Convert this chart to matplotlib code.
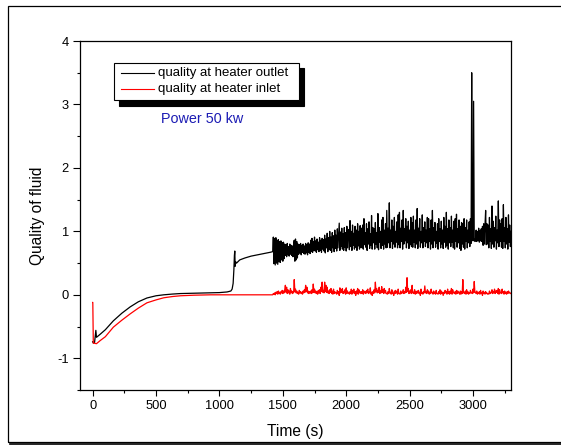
import numpy as np
import matplotlib
matplotlib.use("Agg")
import matplotlib.pyplot as plt
from matplotlib.patches import Rectangle
from matplotlib.lines import Line2D

plt.rcParams['font.family'] = ['Liberation Sans', 'DejaVu Sans']
plt.rcParams['axes.unicode_minus'] = False

# ---------------- data ----------------
# outlet (black) - smooth start-up part
t_out_start = [0, 5, 15, 22, 25, 30, 60, 100, 163, 230, 296, 360, 428, 500, 560, 630,
               693, 800, 930, 1000, 1060, 1090, 1100, 1108, 1114, 1118, 1121, 1124,
               1128, 1135, 1160, 1200, 1250, 1300, 1350, 1400]
q_out_start = [-0.74, -0.76, -0.75, -0.62, -0.56, -0.67, -0.62, -0.55, -0.41, -0.29,
               -0.19, -0.11, -0.05, -0.015, 0.0, 0.012, 0.02, 0.025, 0.03, 0.035,
               0.045, 0.06, 0.09, 0.18, 0.40, 0.62, 0.69, 0.45, 0.52, 0.50, 0.55,
               0.58, 0.61, 0.63, 0.65, 0.67]
# outlet (black) - fluctuating part, sampled every 5 s from 1420 s
q_out_noise = [
    0.68, 0.91, 0.49, 0.89, 0.47, 0.90, 0.50, 0.86, 0.48, 0.87, 0.52, 0.84, 0.51, 0.85, 0.55, 0.82, 0.53, 0.83, 0.57, 0.80,
    0.62, 0.79, 0.60, 0.81, 0.63, 0.76, 0.61, 0.80, 0.64, 0.78, 0.62, 0.77, 0.60, 0.79, 0.86, 0.53, 0.88, 0.55, 0.84, 0.58,
    0.80, 0.64, 0.79, 0.66, 0.81, 0.63, 0.78, 0.67, 0.80, 0.65, 0.77, 0.64, 0.81, 0.66, 0.79, 0.63, 0.82, 0.67, 0.80, 0.65,
    0.86, 0.68, 0.89, 0.67, 0.84, 0.70, 0.91, 0.69, 0.85, 0.67, 0.88, 0.71, 0.83, 0.68, 0.90, 0.70, 0.86, 0.67, 0.89, 0.72,
    0.87, 0.69, 0.94, 0.66, 0.88, 0.74, 0.97, 0.68, 0.90, 0.72, 1.00, 0.70, 0.91, 0.67, 0.98, 0.74, 0.93, 0.68, 1.02, 0.73,
    0.94, 0.69, 1.04, 0.74, 0.95, 1.13, 0.70, 0.99, 0.76, 1.05, 0.72, 0.96, 0.70, 1.06, 0.75, 0.98, 0.69, 1.08, 0.74, 0.99,
    1.03, 0.71, 1.17, 0.76, 1.00, 0.70, 1.10, 0.78, 0.97, 0.72, 1.08, 0.75, 1.02, 0.70, 1.12, 0.77, 1.00, 0.72, 1.09, 0.75,
    1.05, 0.74, 1.10, 0.72, 1.20, 0.79, 0.98, 0.75, 1.12, 0.70, 1.04, 0.80, 1.15, 0.73, 0.96, 0.78, 1.25, 0.72, 1.06, 0.82,
    1.04, 0.72, 1.14, 0.80, 0.98, 0.74, 1.28, 0.71, 1.06, 0.83, 1.00, 0.73, 1.18, 0.78, 1.22, 0.72, 1.02, 0.80, 1.12, 0.74,
    1.33, 0.75, 1.05, 0.82, 1.45, 0.74, 1.02, 0.84, 1.18, 0.73, 1.08, 0.80, 1.22, 0.75, 1.00, 0.83, 1.15, 0.74, 1.26, 0.79,
    1.30, 0.74, 1.05, 0.84, 1.18, 0.72, 1.33, 0.80, 1.04, 0.85, 1.20, 0.74, 1.08, 0.82, 1.16, 0.73, 1.02, 0.79, 1.22, 0.76,
    1.14, 0.75, 1.24, 0.83, 1.02, 0.74, 1.18, 0.80, 1.36, 0.73, 1.05, 0.85, 1.20, 0.75, 1.00, 0.82, 1.26, 0.74, 1.06, 0.84,
    1.15, 0.76, 1.02, 0.82, 1.22, 0.74, 1.20, 0.84, 1.04, 0.72, 1.18, 0.80, 1.33, 0.74, 1.06, 0.85, 1.14, 0.75, 1.00, 0.81,
    1.12, 0.72, 1.20, 0.84, 1.04, 0.74, 1.16, 0.80, 1.02, 0.73, 1.22, 0.83, 1.08, 0.75, 1.30, 0.78, 1.04, 0.72, 1.18, 0.82,
    1.06, 0.76, 1.24, 0.83, 1.02, 0.74, 1.16, 0.72, 1.20, 0.84, 1.27, 0.75, 1.04, 0.82, 1.18, 0.73, 1.08, 0.70, 1.14, 0.80,
    1.12, 0.75, 1.20, 0.72, 1.06, 0.84, 1.18, 0.74, 1.02, 0.82, 1.15, 0.76, 1.20, 0.81, 3.50, 0.95, 0.85, 3.05, 0.90, 0.84,
    0.85, 1.02, 0.84, 1.00, 0.86, 1.05, 0.83, 1.01, 0.85, 1.04, 0.84, 1.08, 0.78, 1.12, 0.80, 1.10, 1.33, 0.79, 1.12, 0.80,
    1.10, 0.74, 1.22, 0.84, 1.04, 0.73, 1.40, 0.80, 1.16, 0.75, 1.06, 0.85, 1.24, 0.72, 1.02, 0.82, 1.48, 0.76, 1.18, 0.84,
    1.12, 0.75, 1.20, 0.73, 1.42, 0.84, 1.06, 0.74, 1.22, 0.80, 1.04, 0.72, 1.26, 0.83, 1.10, 0.76, 1.00,
]

# inlet (red) - smooth start-up part
t_in_start = [0, 1, 5, 30, 60, 100, 163, 230, 296, 360, 428, 500, 560, 630, 693,
              800, 930, 1100, 1300, 1400]
q_in_start = [-0.12, -0.12, -0.76, -0.77, -0.72, -0.66, -0.51, -0.40, -0.30, -0.21,
              -0.126, -0.08, -0.047, -0.027, -0.015, -0.006, 0.0, 0.0, 0.0, 0.0]
# inlet (red) - fluctuating part, sampled every 5 s from 1420 s
q_in_noise = [
    0.00, 0.02, 0.01, 0.03, 0.00, 0.04, 0.02, 0.05, 0.01, 0.06, 0.02, 0.04, 0.01, 0.05, 0.03, 0.07, 0.02, 0.06, 0.03, 0.08,
    0.15, 0.04, 0.12, 0.02, 0.08, 0.03, 0.06, 0.01, 0.10, 0.04, 0.06, 0.02, 0.05, 0.03, 0.24, 0.05, 0.09, 0.03, 0.06, 0.02,
    0.04, 0.01, 0.07, 0.03, 0.05, 0.02, 0.04, 0.01, 0.06, 0.03, 0.08, 0.04, 0.15, 0.05, 0.12, 0.03, 0.06, 0.02, 0.05, 0.03,
    0.06, 0.02, 0.08, 0.03, 0.17, 0.04, 0.09, 0.03, 0.06, 0.02, 0.05, 0.01, 0.07, 0.03, 0.08, 0.02, 0.12, 0.05, 0.20, 0.04,
    0.07, 0.03, 0.20, 0.05, 0.15, 0.04, 0.12, 0.03, 0.06, 0.02, 0.08, 0.04, 0.10, 0.02, 0.06, 0.01, 0.09, 0.02, 0.05, 0.03,
    0.03, 0.01, 0.07, 0.02, 0.05, -0.01, 0.11, 0.03, 0.08, 0.04, 0.10, 0.02, 0.05, 0.03, 0.08, 0.01, 0.11, 0.02, 0.06, 0.03,
    0.03, 0.01, 0.05, 0.02, 0.09, 0.01, 0.07, 0.03, 0.09, 0.02, 0.05, -0.01, 0.06, 0.02, 0.10, 0.01, 0.08, 0.03, 0.05, 0.02,
    0.05, 0.02, 0.08, 0.01, 0.06, 0.03, 0.05, 0.02, 0.07, 0.04, 0.09, 0.02, 0.05, 0.03, 0.11, 0.01, 0.04, -0.01, 0.05, 0.02,
    0.08, 0.03, 0.20, 0.05, 0.10, 0.03, 0.07, 0.04, 0.12, 0.02, 0.06, 0.03, 0.13, 0.04, 0.08, 0.02, 0.10, 0.03, 0.07, 0.02,
    0.02, 0.01, 0.05, 0.02, 0.10, 0.03, 0.04, 0.01, 0.08, 0.02, 0.03, -0.01, 0.06, 0.02, 0.07, 0.03, 0.05, 0.01, 0.09, 0.02,
    0.02, 0.01, 0.06, 0.02, 0.04, 0.03, 0.08, 0.02, 0.05, 0.03, 0.12, 0.04, 0.27, 0.05, 0.10, 0.02, 0.06, 0.03, 0.08, 0.02,
    0.15, 0.03, 0.04, 0.02, 0.08, 0.01, 0.05, 0.02, 0.06, 0.03, 0.07, 0.02, 0.04, -0.01, 0.09, 0.02, 0.04, 0.01, 0.05, 0.03,
    0.14, 0.03, 0.05, 0.02, 0.08, 0.03, 0.06, 0.01, 0.04, 0.02, 0.09, 0.03, 0.04, 0.01, 0.06, 0.02, 0.04, 0.01, 0.07, 0.02,
    0.02, 0.01, 0.05, 0.02, 0.08, 0.01, 0.06, 0.02, 0.04, -0.01, 0.04, 0.02, 0.07, 0.03, 0.05, 0.01, 0.09, 0.02, 0.05, 0.01,
    0.06, 0.02, 0.10, 0.01, 0.08, 0.03, 0.04, 0.02, 0.05, 0.01, 0.07, 0.02, 0.06, 0.03, 0.04, 0.01, 0.06, 0.01, 0.05, 0.02,
    0.24, 0.03, 0.04, 0.02, 0.06, 0.01, 0.08, 0.02, 0.05, 0.01, 0.03, 0.02, 0.07, 0.03, 0.04, 0.02, 0.09, 0.03, 0.21, 0.04,
    0.04, 0.02, 0.06, 0.01, 0.03, 0.02, 0.05, 0.01, 0.07, 0.02, 0.03, -0.01, 0.06, 0.02, 0.04, 0.01, 0.05, 0.02, 0.03, 0.01,
    0.02, 0.01, 0.06, 0.02, 0.04, 0.03, 0.08, 0.02, 0.05, 0.03, 0.09, 0.02, 0.06, 0.04, 0.07, 0.02, 0.10, 0.01, 0.08, 0.03,
    0.04, 0.02, 0.09, 0.03, 0.05, 0.01, 0.06, 0.02, 0.04, 0.01, 0.05, 0.02, 0.06, 0.03, 0.04, 0.02, 0.02,
]
noise_t0 = 1420
noise_dt = 5

labels = ["quality at heater outlet", "quality at heater inlet"]
colors = ["black", "red"]
annotation = "Power 50 kw"
x_ticks = [0, 500, 1000, 1500, 2000, 2500, 3000]
y_ticks = [-1, 0, 1, 2, 3, 4]

# ---------------- assemble series ----------------
t_out = np.concatenate([t_out_start, noise_t0 + noise_dt * np.arange(len(q_out_noise))])
q_out = np.concatenate([q_out_start, q_out_noise])
t_in = np.concatenate([t_in_start, noise_t0 + noise_dt * np.arange(len(q_in_noise))])
q_in = np.concatenate([q_in_start, q_in_noise])

# ---------------- figure ----------------
W, H = 561, 445
fig = plt.figure(figsize=(W / 100, H / 100), dpi=100)
ax = fig.add_axes([80 / W, (H - 390) / H, 431 / W, 349 / H])

l1, = ax.plot(t_out, q_out, color=colors[0], lw=0.9)
l2, = ax.plot(t_in, q_in, color=colors[1], lw=0.9)

ax.set_xlim(-100, 3300)
ax.set_ylim(-1.5, 4)
ax.set_xticks(x_ticks)
ax.set_xticklabels([str(v) for v in x_ticks])
ax.set_yticks(y_ticks)
ax.set_yticklabels([str(v) for v in y_ticks])
ax.set_xticks(np.arange(250, 3300, 500), minor=True)
ax.set_yticks([-1.5, -0.5, 0.5, 1.5, 2.5, 3.5], minor=True)

ax.tick_params(axis='both', which='both', direction='out', labelsize=9.3, width=0.8)
ax.tick_params(axis='x', which='major', length=4, pad=3)
ax.tick_params(axis='y', which='major', length=5, pad=3)
ax.tick_params(axis='both', which='minor', length=2.5)
for s in ax.spines.values():
    s.set_linewidth(0.9)

ax.set_xlabel("Time (s)", fontsize=11.2)
ax.set_ylabel("Quality of fluid", fontsize=11.2)
ax.xaxis.set_label_coords(0.5, -0.098)
ax.yaxis.set_label_coords(-0.082, 0.5)

# legend box (with solid shadow, as in the original)
ax.add_patch(Rectangle((0.0905, 0.814), 0.43, 0.109, transform=ax.transAxes,
                       facecolor='black', edgecolor='black', lw=0.8, zorder=5))
ax.add_patch(Rectangle((0.0796, 0.831), 0.4285, 0.107, transform=ax.transAxes,
                       facecolor='white', edgecolor='black', lw=0.8, zorder=6))
for (yy, lab, col) in zip([0.9075, 0.8616], labels, colors):
    ax.add_line(Line2D([0.0958, 0.172], [yy, yy], transform=ax.transAxes,
                       color=col, lw=0.8, zorder=7))
    ax.text(0.181, yy, lab, transform=ax.transAxes, fontsize=9.5,
            va='center', ha='left', zorder=7)

ax.text(0.188, 0.7765, annotation, transform=ax.transAxes, fontsize=10.4,
        color='#1c1cb4', va='center', ha='left')

# outer frame around the figure
fig.patches.append(Rectangle((8 / W, 3 / H), 1.0, (442 - 6) / H, transform=fig.transFigure,
                             fill=False, edgecolor='black', lw=0.9))
fig.lines.append(Line2D([10 / W, 1.0], [1.3 / H, 1.3 / H], transform=fig.transFigure,
                        color='black', lw=1.2))

fig.savefig("out.png", dpi=100)
